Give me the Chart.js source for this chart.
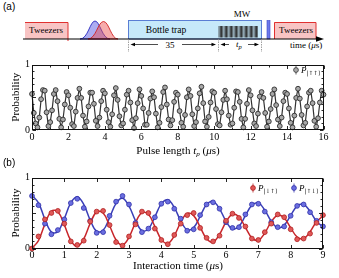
<!DOCTYPE html>
<html><head><meta charset="utf-8">
<script src="https://cdn.jsdelivr.net/npm/chart.js@4.4.0/dist/chart.umd.min.js"></script>
<style>
html,body{margin:0;padding:0;background:#fff;}
body{width:339px;height:278px;position:relative;overflow:hidden;font-family:"Liberation Serif","DejaVu Serif",serif;color:#000;}
canvas{position:absolute;left:0;}
.lbl{position:absolute;font-family:"Liberation Sans",Arial,sans-serif;font-size:10px;line-height:10px;}
.title{position:absolute;font-size:11px;line-height:11px;white-space:nowrap;transform:translateX(-50%);}
.leg{position:absolute;font-size:9px;line-height:9px;white-space:nowrap;}
sub{font-size:65%;vertical-align:-0.3em;line-height:0;font-style:normal;font-family:"DejaVu Serif",serif;}
</style></head><body>

<svg width="339" height="60" style="position:absolute;left:0;top:0" font-family="Liberation Serif, serif">
  <defs>
    <pattern id="mw" width="1.25" height="12" patternUnits="userSpaceOnUse">
      <rect x="0" y="0" width="0.8" height="12" fill="#2a2a2a"/>
    </pattern>
  </defs>
  <!-- left tweezers -->
  <rect x="25" y="22" width="43" height="17" fill="#f8c4c4"/>
  <polyline points="25,22.5 68,22.5 68,41" fill="none" stroke="#e03030" stroke-width="1"/>
  <text x="46" y="32.5" font-size="9" text-anchor="middle">Tweezers</text>
  <!-- gaussian pulses -->
  <path d="M80,39 C88,39 90,21 95,21 C100,21 102,39 110,39 Z" fill="rgba(70,70,225,0.45)" stroke="#2a2ac0" stroke-width="0.9"/>
  <path d="M88,39 C96,39 98,21.5 103.5,21.5 C109,21.5 111,39 118,39 Z" fill="rgba(235,70,70,0.45)" stroke="#d02020" stroke-width="0.9"/>
  <!-- bottle trap -->
  <rect x="128.5" y="20.5" width="133" height="18.5" fill="#c6e9fa" stroke="#5a7ed4" stroke-width="1"/>
  <text x="166" y="32.5" font-size="9.5" text-anchor="middle">Bottle trap</text>
  <!-- MW pulse train -->
  <rect x="218" y="26" width="40" height="11.5" fill="url(#mw)"/>
  <text x="242" y="17" font-size="9" text-anchor="middle">MW</text>
  <!-- push-out pulse -->
  <rect x="267" y="20.5" width="3" height="18.5" fill="#6c78ea" stroke="#3a48c8" stroke-width="0.6"/>
  <!-- right tweezers -->
  <rect x="274" y="22" width="42" height="17" fill="#f8c4c4"/>
  <polyline points="274.5,39 274.5,22.5 316,22.5 316,39" fill="none" stroke="#e03030" stroke-width="1"/>
  <text x="296" y="32.5" font-size="9" text-anchor="middle">Tweezers</text>
  <!-- time axis -->
  <line x1="23" y1="39" x2="318" y2="39" stroke="#000" stroke-width="1"/>
  <polygon points="324,39 316,36.3 316,41.7" fill="#000"/>
  <!-- dashed markers -->
  <g stroke="#888" stroke-width="0.8" stroke-dasharray="1.5,1">
    <line x1="128.5" y1="39" x2="128.5" y2="52"/>
    <line x1="218.5" y1="39" x2="218.5" y2="52"/>
    <line x1="261.5" y1="39" x2="261.5" y2="52"/>
  </g>
  <!-- 35 arrow -->
  <g stroke="#000" stroke-width="0.7">
    <line x1="133" y1="44.5" x2="158" y2="44.5"/>
    <line x1="182" y1="44.5" x2="213" y2="44.5"/>
    <line x1="223" y1="44.5" x2="229" y2="44.5"/>
    <line x1="248" y1="44.5" x2="256" y2="44.5"/>
  </g>
  <polygon points="130.5,44.5 135,42.8 135,46.2" fill="#000"/>
  <polygon points="216,44.5 211.5,42.8 211.5,46.2" fill="#000"/>
  <polygon points="220.5,44.5 225,42.8 225,46.2" fill="#000"/>
  <polygon points="259,44.5 254.5,42.8 254.5,46.2" fill="#000"/>
  <text x="170" y="47.5" font-size="9" text-anchor="middle">35</text>
  <text x="236" y="47" font-size="9" font-style="italic">t<tspan font-size="6.5" dy="1.5">p</tspan></text>
  <text x="290" y="47.5" font-size="9">time (<tspan font-style="italic">μ</tspan>s)</text>
  <text x="3" y="10" font-size="10" font-family="Liberation Sans, Arial, sans-serif">(a)</text>
</svg>

<canvas id="c1" width="339" height="90" style="top:55px"></canvas>
<canvas id="c2" width="339" height="100" style="top:165px"></canvas>

<div class="lbl" style="left:3px;top:158px">(b)</div>
<div class="title" style="left:178px;top:145px">Pulse length <i>t<sub style="font-family:'Liberation Serif',serif;font-style:italic">p</sub></i> (<i>μ</i>s)</div>
<div class="title" style="left:178px;top:260px">Interaction time (<i>μ</i>s)</div>

<svg width="8" height="10" style="position:absolute;left:292px;top:65px"><line x1="4" y1="0.5" x2="4" y2="9.5" stroke="#333" stroke-width="0.8"/><circle cx="4" cy="5" r="2.4" fill="#a9a9a9" stroke="#333" stroke-width="0.8"/></svg>
<div class="leg" style="left:301px;top:66px"><i>P</i><sub>|↑↑⟩</sub></div>

<svg width="8" height="10" style="position:absolute;left:249px;top:183px"><line x1="4" y1="0.5" x2="4" y2="9.5" stroke="#b02020" stroke-width="0.8"/><circle cx="4" cy="5" r="2.4" fill="#e05858" stroke="#b02020" stroke-width="0.8"/></svg>
<div class="leg" style="left:258px;top:184px"><i>P</i><sub>|↓↑⟩</sub></div>
<svg width="8" height="10" style="position:absolute;left:290px;top:183px"><line x1="4" y1="0.5" x2="4" y2="9.5" stroke="#3030a8" stroke-width="0.8"/><circle cx="4" cy="5" r="2.4" fill="#6a6ee0" stroke="#3030a8" stroke-width="0.8"/></svg>
<div class="leg" style="left:299px;top:184px"><i>P</i><sub>|↑↓⟩</sub></div>

<script>
// ---- Data: Rabi oscillation P_|↑↑⟩ vs pulse length (μs), 0.1 μs steps ----
const pUpUp = [
  0.55,0.26,0.10,0.04,0.19,0.47,0.61,0.60,0.27,0.06,0.12,0.30,0.55,0.61,0.44,0.17,0.04,0.16,0.39,0.58,
  0.53,0.34,0.09,0.06,0.28,0.49,0.63,0.49,0.22,0.05,0.13,0.36,0.57,0.57,0.40,0.14,0.06,0.19,0.44,0.60,
  0.56,0.31,0.12,0.05,0.24,0.53,0.64,0.46,0.21,0.07,0.10,0.31,0.54,0.60,0.42,0.15,0.03,0.18,0.41,0.62,
  0.52,0.33,0.08,0.08,0.26,0.48,0.59,0.50,0.25,0.04,0.11,0.35,0.58,0.65,0.39,0.16,0.07,0.15,0.43,0.57,
  0.54,0.29,0.11,0.05,0.23,0.50,0.62,0.52,0.24,0.06,0.12,0.33,0.56,0.66,0.41,0.13,0.05,0.20,0.42,0.59,
  0.57,0.32,0.09,0.07,0.27,0.46,0.60,0.47,0.22,0.08,0.10,0.34,0.59,0.58,0.43,0.17,0.04,0.17,0.40,0.61,
  0.53,0.30,0.10,0.06,0.25,0.51,0.58,0.49,0.26,0.05,0.13,0.32,0.55,0.62,0.38,0.16,0.06,0.19,0.44,0.57,
  0.55,0.33,0.11,0.04,0.22,0.49,0.63,0.48,0.23,0.07,0.11,0.36,0.57,0.60,0.41,0.14,0.05,0.18,0.42,0.60,
  0.54
];
const pulseStep = 0.1;
const pulseTimes = pUpUp.map((_, i) => +(i * pulseStep).toFixed(1));

// ---- Data: exchange oscillation vs interaction time (μs), 0.2 μs steps ----
const pDownUp = [0.00,0.17,0.41,0.50,0.53,0.35,0.10,0.05,0.11,0.38,0.52,0.53,0.33,0.09,0.04,0.17,0.34,0.52,0.50,0.28,0.12,0.06,0.19,0.35,0.47,0.50,0.29,0.15,0.10,0.18,0.39,0.49,0.43,0.31,0.14,0.12,0.23,0.35,0.48,0.44,0.27,0.13,0.14,0.21,0.36,0.47];
const pUpDown = [0.74,0.61,0.35,0.20,0.26,0.41,0.64,0.70,0.57,0.39,0.22,0.23,0.46,0.66,0.74,0.62,0.36,0.23,0.28,0.44,0.63,0.66,0.56,0.42,0.25,0.27,0.47,0.62,0.65,0.56,0.37,0.29,0.30,0.48,0.62,0.63,0.52,0.37,0.30,0.31,0.46,0.60,0.62,0.51,0.39,0.31];
const fitDownUp = [0.005,0.112,0.344,0.525,0.517,0.332,0.113,0.027,0.136,0.354,0.515,0.499,0.321,0.120,0.049,0.158,0.362,0.505,0.481,0.311,0.128,0.071,0.179,0.369,0.494,0.463,0.303,0.138,0.093,0.200,0.373,0.482,0.446,0.297,0.150,0.116,0.219,0.376,0.469,0.430,0.292,0.162,0.139,0.236,0.378,0.456];
const fitUpDown = [0.750,0.643,0.411,0.231,0.238,0.423,0.642,0.729,0.620,0.402,0.241,0.257,0.435,0.636,0.708,0.598,0.394,0.252,0.276,0.446,0.629,0.686,0.578,0.389,0.263,0.294,0.454,0.619,0.664,0.558,0.385,0.276,0.312,0.462,0.609,0.642,0.540,0.383,0.290,0.329,0.467,0.597,0.620,0.523,0.382,0.304];
const interStep = 0.2;
const interTimes = pDownUp.map((_, i) => +(i * interStep).toFixed(1));

// ---- Tick labels / tick marks ----
const pulseTicksMajor = [0,2,4,6,8,10,12,14,16];
const pulseTicksMinor = [1,3,5,7,9,11,13,15];
const interTicksMajor = [0,1,2,3,4,5,6,7,8,9];
const interTicksMinor = [];
const probTicksMajor = [0,0.5,1];
const probTicksMinor = [0.1,0.2,0.3,0.4,0.6,0.7,0.8,0.9];

const xy = (xs, ys) => xs.map((x, i) => ({x, y: ys[i]}));

const frameTicks = {
  id: 'frameTicks',
  afterDatasetsDraw(chart, args, o) {
    const {ctx, chartArea: a, scales: {x, y}} = chart;
    const L = Math.round(a.left) + 0.5, R = Math.round(a.right) - 0.5;
    const T = Math.round(a.top) + 0.5, B = Math.round(a.bottom) - 0.5;
    ctx.save();
    ctx.strokeStyle = '#111'; ctx.lineWidth = 0.9;
    ctx.beginPath();
    const vt = (v, len) => { const p = Math.round(x.getPixelForValue(v)) + 0.5; ctx.moveTo(p, B); ctx.lineTo(p, B - len); ctx.moveTo(p, T); ctx.lineTo(p, T + len); };
    const ht = (v, len) => { const p = Math.round(y.getPixelForValue(v)) + 0.5; ctx.moveTo(L, p); ctx.lineTo(L + len, p); ctx.moveTo(R, p); ctx.lineTo(R - len, p); };
    o.xMajor.forEach(v => vt(v, 3.5)); o.xMinor.forEach(v => vt(v, 2));
    o.yMajor.forEach(v => ht(v, 3.5)); o.yMinor.forEach(v => ht(v, 2));
    ctx.stroke();
    ctx.lineWidth = 1;
    ctx.strokeRect(L, T, R - L, B - T);
    ctx.restore();
  }
};

const tickFont = {family: "'Liberation Serif', serif", size: 10};
function axes(xmax, xstep, yWidth, xHeight) {
  return {
    x: {type: 'linear', min: 0, max: xmax,
        ticks: {stepSize: xstep, font: tickFont, color: '#000', padding: 1, maxRotation: 0, autoSkip: false},
        grid: {display: false, drawTicks: false}, border: {display: false},
        afterFit: s => { s.height = xHeight; }},
    y: {min: 0, max: 1,
        ticks: {stepSize: 1, font: tickFont, color: '#000', padding: 2},
        grid: {display: false, drawTicks: false}, border: {display: false},
        title: {display: true, text: 'Probability', color: '#000', font: {family: "'Liberation Serif', serif", size: 11}, padding: {top: 10, bottom: 0}},
        afterFit: s => { s.width = yWidth; }}
  };
}

new Chart(document.getElementById('c1'), {
  type: 'line',
  data: {datasets: [{
    data: xy(pulseTimes, pUpUp),
    borderColor: '#333', borderWidth: 1.2, tension: 0,
    pointRadius: 2.4, pointBackgroundColor: '#a8a8a8', pointBorderColor: '#2e2e2e', pointBorderWidth: 0.9,
    clip: 4
  }]},
  options: {
    responsive: false, animation: false, devicePixelRatio: 1,
    layout: {padding: {top: 9.5, right: 15.5, left: 0, bottom: 0}},
    scales: axes(16, 2, 32, 15),
    plugins: {legend: {display: false}, tooltip: {enabled: false},
      frameTicks: {xMajor: pulseTicksMajor, xMinor: pulseTicksMinor, yMajor: probTicksMajor, yMinor: probTicksMinor}}
  },
  plugins: [frameTicks]
});

new Chart(document.getElementById('c2'), {
  type: 'line',
  data: {datasets: [
    {data: xy(interTimes, pDownUp), showLine: false, order: 0, clip: 4,
     pointRadius: 2.4, pointBackgroundColor: '#e05858', pointBorderColor: '#b02020', pointBorderWidth: 0.8},
    {data: xy(interTimes, pUpDown), showLine: false, order: 0, clip: 4,
     pointRadius: 2.4, pointBackgroundColor: '#6a6ee0', pointBorderColor: '#3030a8', pointBorderWidth: 0.8},
    {data: xy(interTimes, fitDownUp), order: 1, borderColor: '#c8262b', borderWidth: 1.5, pointRadius: 0, tension: 0.4},
    {data: xy(interTimes, fitUpDown), order: 1, borderColor: '#3a3fb8', borderWidth: 1.5, pointRadius: 0, tension: 0.4}
  ]},
  options: {
    responsive: false, animation: false, devicePixelRatio: 1,
    layout: {padding: {top: 12.5, right: 16, left: 0, bottom: 0}},
    scales: axes(9, 1, 32, 16.5),
    plugins: {legend: {display: false}, tooltip: {enabled: false},
      frameTicks: {xMajor: interTicksMajor, xMinor: interTicksMinor, yMajor: probTicksMajor, yMinor: probTicksMinor}}
  },
  plugins: [frameTicks]
});
</script>
</body></html>
